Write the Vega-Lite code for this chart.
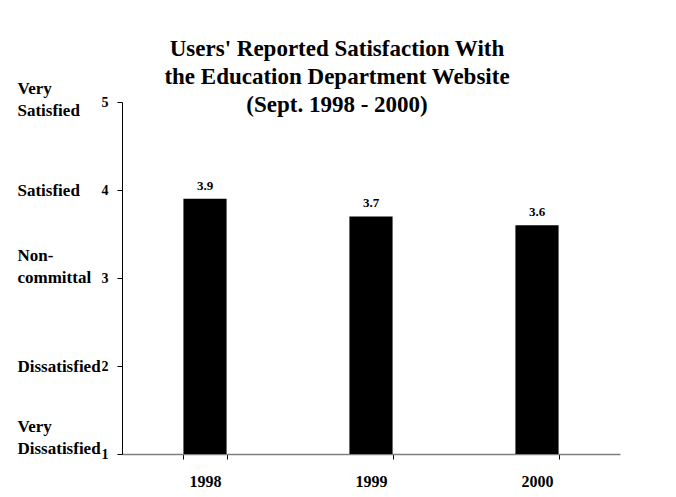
{
  "$schema": "https://vega.github.io/schema/vega-lite/v6.json",
  "width": 498,
  "height": 352,
  "autosize": {"type": "none"},
  "padding": {"left": 122, "top": 102, "right": 56, "bottom": 43},
  "background": "white",
  "title": {
    "text": ["Users' Reported Satisfaction With", "the Education Department Website", "(Sept. 1998 - 2000)"],
    "font": "Liberation Serif",
    "fontSize": 23,
    "fontWeight": "bold",
    "color": "#000000",
    "lineHeight": 28,
    "anchor": "middle",
    "dx": -34,
    "dy": 38,
    "offset": 0
  },
  "data": {
    "values": [
      {"year": "1998", "score": 3.9},
      {"year": "1999", "score": 3.7},
      {"year": "2000", "score": 3.6}
    ]
  },
  "config": {
    "view": {"stroke": null},
    "axis": {"labelFont": "Liberation Serif", "labelFontWeight": "bold", "labelColor": "#000000", "grid": false, "title": null}
  },
  "resolve": {"axis": {"y": "independent"}},
  "layer": [
    {
      "mark": {"type": "bar", "color": "#000000"},
      "encoding": {
        "x": {
          "field": "year",
          "type": "nominal",
          "scale": {"paddingInner": 0.74, "paddingOuter": 0.37},
          "axis": {
            "labelAngle": 0,
            "labelFontSize": 16,
            "labelPadding": 14,
            "tickBand": "extent",
            "tickSize": 5,
            "tickColor": "#000000",
            "domainColor": "#808080",
            "domainWidth": 1.5
          }
        },
        "y": {
          "field": "score",
          "type": "quantitative",
          "scale": {"domain": [1, 5], "nice": false, "zero": false},
          "axis": {
            "orient": "left",
            "values": [1, 2, 3, 4, 5],
            "labelFontSize": 14,
            "labelPadding": 9,
            "tickSize": 5,
            "tickColor": "#000000",
            "domainColor": "#000000"
          }
        },
        "y2": {"datum": 1}
      }
    },
    {
      "mark": {"type": "text", "font": "Liberation Serif", "fontWeight": "bold", "fontSize": 13, "baseline": "alphabetic", "dy": -9, "color": "#000000"},
      "encoding": {
        "x": {"field": "year", "type": "nominal"},
        "y": {
          "field": "score",
          "type": "quantitative",
          "axis": {
            "orient": "left",
            "values": [1, 2, 3, 4, 5],
            "domain": false,
            "ticks": false,
            "tickSize": 0,
            "labelAlign": "left",
            "labelPadding": 105,
            "labelFontSize": 17,
            "labelLineHeight": 22,
            "labelOffset": {
              "condition": [
                {"test": "datum.value == 5", "value": -14},
                {"test": "datum.value == 3", "value": -23},
                {"test": "datum.value == 1", "value": -28}
              ],
              "value": 0
            },
            "labelExpr": "datum.value == 5 ? ['\u00a0\u00a0\u00a0\u00a0Very', 'Satisfied'] : datum.value == 4 ? 'Satisfied' : datum.value == 3 ? ['Non-', 'committal'] : datum.value == 2 ? 'Dissatisfied' : ['Very', 'Dissatisfied']"
          }
        },
        "text": {"field": "score", "type": "quantitative", "format": ".1f"}
      }
    }
  ]
}
